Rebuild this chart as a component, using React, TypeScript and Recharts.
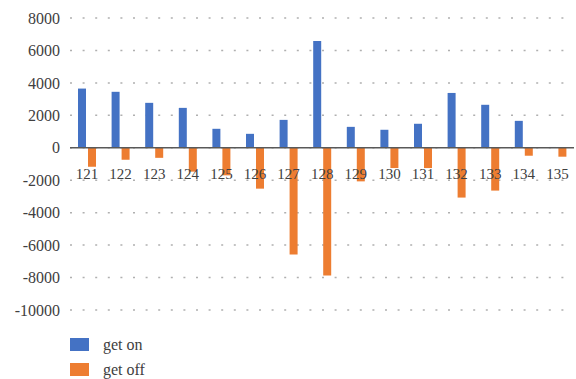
import React from 'react';
import { BarChart, Bar, XAxis, YAxis, CartesianGrid, ReferenceLine, Legend, LabelList } from 'recharts';

// stop numbers along the route
const stops = ['121', '122', '123', '124', '125', '126', '127', '128', '129', '130', '131', '132', '133', '134', '135'];

// boarding counts (positive) and alighting counts (negative)
const getOn = [3650, 3450, 2770, 2460, 1170, 860, 1720, 6580, 1290, 1110, 1480, 3380, 2650, 1660, 50];
const getOff = [-1170, -740, -620, -1470, -1700, -2520, -6580, -7880, -2070, -1250, -1250, -3070, -2640, -490, -550];

const yTicks = [-10000, -8000, -6000, -4000, -2000, 0, 2000, 4000, 6000, 8000];

const BLUE = '#4472C4';
const ORANGE = '#ED7D31';
const TEXT = '#404040';
const FONT = 'Liberation Serif, DejaVu Serif, serif';

const data = stops.map((name, i) => ({ name, getOn: getOn[i], getOff: getOff[i] }));

// stop numbers sit just under the zero line, centred between the pair of bars
const StopLabel = (props: any) => {
  const { x, y, width, height, value } = props;
  const base = height >= 0 ? y + height : y;
  return (
    <text x={x + width + 1} y={base + 31} textAnchor="middle" fontSize={15} style={{ fontFamily: FONT }} fill={TEXT}>
      {value}
    </text>
  );
};

const legendItems = [
  { label: 'get on', color: BLUE },
  { label: 'get off', color: ORANGE },
];

const LegendBox = () => (
  <div style={{ fontFamily: FONT, fontSize: 16, color: TEXT }}>
    {legendItems.map((item) => (
      <div key={item.label} style={{ display: 'flex', alignItems: 'center', height: 25 }}>
        <span style={{ display: 'inline-block', width: 19, height: 13, background: item.color, marginRight: 14 }} />
        <span>{item.label}</span>
      </div>
    ))}
  </div>
);

export default function App() {
  return (
    <div style={{ position: 'absolute', left: 0, top: 0, fontFamily: FONT }}>
      <BarChart
        width={576}
        height={379}
        data={data}
        barSize={8}
        barGap={2}
        margin={{ top: 18, right: 2, left: 0, bottom: 69 }}
        style={{ fontFamily: FONT }}
      >
        <CartesianGrid vertical={false} stroke="#b0b0b0" strokeWidth={1.5} strokeDasharray="2 10.6" />
        <XAxis dataKey="name" hide />
        <YAxis
          domain={[-10000, 8000]}
          ticks={yTicks}
          width={70}
          axisLine={false}
          tickLine={false}
          tickSize={6}
          tickMargin={4}
          tick={{ fontSize: 16, fill: TEXT, style: { fontFamily: FONT } }}
          interval={0}
        />
        <ReferenceLine y={0} stroke="#595959" strokeWidth={1.5} />
        <Bar dataKey="getOn" name="get on" fill={BLUE} isAnimationActive={false}>
          <LabelList dataKey="name" content={StopLabel} />
        </Bar>
        <Bar dataKey="getOff" name="get off" fill={ORANGE} isAnimationActive={false} />
        <Legend
          layout="vertical"
          align="center"
          verticalAlign="middle"
          content={LegendBox}
          wrapperStyle={{ top: 332, left: 70, width: 200, height: 50 }}
        />
      </BarChart>
    </div>
  );
}
